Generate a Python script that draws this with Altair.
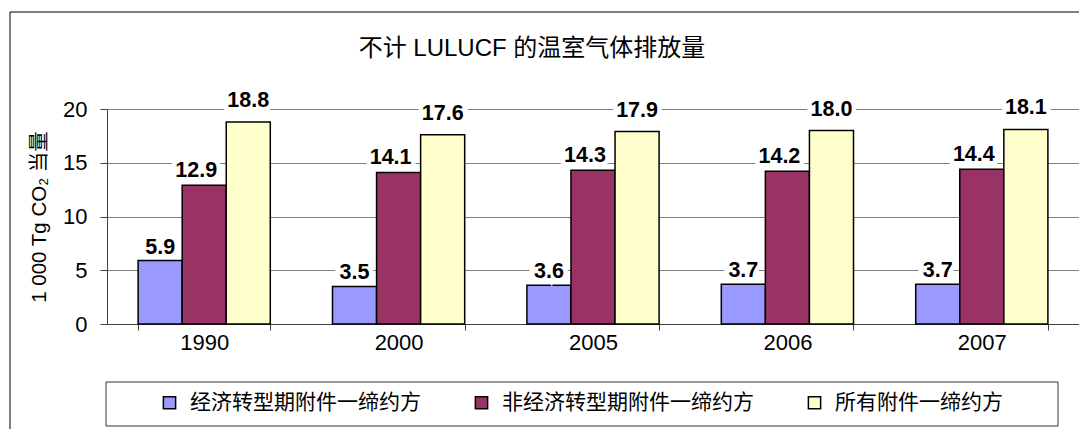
import altair as alt
import pandas as pd

years = ["1990", "2000", "2005", "2006", "2007"]
series = ["经济转型期附件一缔约方", "非经济转型期附件一缔约方", "所有附件一缔约方"]
eit = [5.9, 3.5, 3.6, 3.7, 3.7]
non_eit = [12.9, 14.1, 14.3, 14.2, 14.4]
all_annex = [18.8, 17.6, 17.9, 18.0, 18.1]
colors = ["#9999FF", "#993366", "#FFFFCC"]
y_ticks = [0, 5, 10, 15, 20]
title_text = "不计 LULUCF 的温室气体排放量"

rows = []
for s, vals in zip(series, [eit, non_eit, all_annex]):
    for yr, v in zip(years, vals):
        rows.append({"year": yr, "series": s, "value": v})
df = pd.DataFrame(rows)

LAT = "Liberation Sans"
CJK = "Noto Sans CJK SC"
MIX = "Liberation Sans, Noto Sans CJK SC"

x_enc = alt.X("year:N", sort=years,
              scale=alt.Scale(paddingInner=0.32, paddingOuter=0.16),
              axis=alt.Axis(title=None, labelAngle=0, labelFont=LAT, labelFontSize=22,
                            labelColor="black", tickBand="extent", tickSize=6,
                            tickColor="#404040", domainColor="#404040", labelPadding=2,
                            grid=False))
y_enc = alt.Y("value:Q", scale=alt.Scale(domain=[0, 20], nice=False),
              axis=alt.Axis(values=y_ticks, title="1 000 Tg CO₂ 当量", titleFont=MIX,
                            titleFontSize=20.5, titleFontWeight="normal", titleColor="black",
                            titlePadding=13, labelFont=LAT, labelFontSize=22,
                            labelColor="black", tickSize=7, labelPadding=13,
                            tickColor="#404040", domainColor="#404040",
                            gridColor="#808080", gridWidth=1))
xo = alt.XOffset("series:N", sort=series, scale=alt.Scale(paddingInner=0, paddingOuter=0))

base = alt.Chart(df)

bars = base.mark_bar(stroke="black", strokeWidth=1.5).encode(
    x=x_enc, y=y_enc, xOffset=xo,
    color=alt.Color("series:N", sort=series,
                    scale=alt.Scale(domain=series, range=colors),
                    legend=alt.Legend(title=None, orient="none", legendX=52, legendY=283,
                                      direction="horizontal", symbolType="square",
                                      symbolSize=150, symbolStrokeColor="black",
                                      symbolStrokeWidth=1.5, labelFont=CJK,
                                      labelFontSize=21, labelColor="black",
                                      columnPadding=50, labelOffset=10, labelLimit=400)),
)

label_layers = []
offsets = {series[0]: (0, -13), series[1]: (-8, -14), series[2]: (0, -21)}
for s in series:
    dx, dy = offsets[s]
    sub = base.transform_filter(alt.datum.series == s)
    halo = sub.mark_text(font=LAT, fontSize=21.5, fontWeight="bold", baseline="middle",
                         dx=dx, dy=dy, stroke="white", strokeWidth=9,
                         fill="white").encode(
        x=alt.X("year:N", sort=years), y="value:Q", xOffset=xo,
        text=alt.Text("value:Q", format=".1f"))
    txt = sub.mark_text(font=LAT, fontSize=21.5, fontWeight="bold", baseline="middle",
                        dx=dx, dy=dy, color="black").encode(
        x=alt.X("year:N", sort=years), y="value:Q", xOffset=xo,
        text=alt.Text("value:Q", format=".1f"))
    label_layers += [halo, txt]

one = alt.Chart(pd.DataFrame({"t": [title_text]}))
frame = one.mark_rect(filled=False, stroke="black", strokeWidth=1).encode(
    x=alt.value(-97), x2=alt.value(2000), y=alt.value(-97), y2=alt.value(2000))
legend_box = one.mark_rect(fill="white", stroke="#333333", strokeWidth=1).encode(
    x=alt.value(-1), x2=alt.value(951), y=alt.value(273), y2=alt.value(317))
title = one.mark_text(font=MIX, fontSize=24, color="black", align="center",
                      baseline="alphabetic").encode(
    x=alt.value(425), y=alt.value(-53), text="t:N")

chart = alt.layer(frame, legend_box, title, bars, *label_layers).properties(
    width=972, height=215,
    autosize=alt.AutoSizeParams(type="none"),
    padding={"left": 99, "top": 101, "right": 0, "bottom": 105},
).configure_view(stroke=None).configure(background="white")

chart.save("out.html", embed_options={"renderer": "svg", "actions": False})
